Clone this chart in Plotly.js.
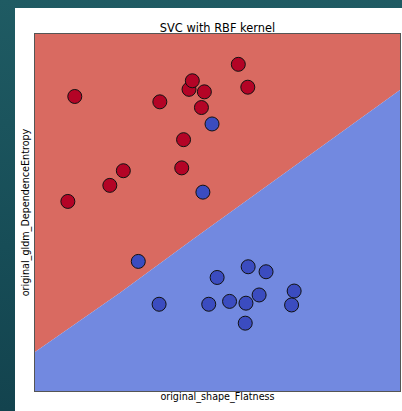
<!DOCTYPE html>
<html>
<head>
<meta charset="utf-8">
<script src="https://cdn.plot.ly/plotly-3.0.1.min.js"></script>
<style>
html,body{margin:0;padding:0;width:402px;height:411px;overflow:hidden;}
body{background:linear-gradient(180deg,#1f5b63 0%,#174d57 60%,#13434e 100%);}
#card{position:absolute;left:15px;top:8px;width:387px;height:403px;background:#fff;}
#chart{width:387px;height:403px;}
</style>
</head>
<body>
<div id="card"><div id="chart"></div></div>
<script>
// Class 1 (red) training points
const redX = [0.109,0.342,0.422,0.431,0.464,0.557,0.583,0.456,0.407,0.242,0.402,0.205,0.090];
const redY = [0.825,0.810,0.845,0.869,0.838,0.915,0.851,0.794,0.704,0.617,0.625,0.576,0.531];
// Class 0 (blue) training points
const blueX = [0.485,0.460,0.283,0.340,0.476,0.499,0.533,0.578,0.584,0.633,0.614,0.576,0.710,0.703];
const blueY = [0.748,0.557,0.363,0.243,0.243,0.318,0.251,0.246,0.348,0.334,0.269,0.190,0.280,0.241];
// Decision boundary (RBF SVC)
const boundX = [0.000,0.233,0.430,0.808,1.000];
const boundY = [0.109,0.275,0.423,0.703,0.843];
const xRange = [0,1];
const yRange = [0,1];

const redRegionX = boundX.concat([xRange[1], xRange[0]]);
const redRegionY = boundY.concat([yRange[1], yRange[1]]);
const blueRegionX = boundX.concat([xRange[1], xRange[0]]);
const blueRegionY = boundY.concat([yRange[0], yRange[0]]);

const traces = [
  {x: redRegionX, y: redRegionY, type:'scatter', mode:'lines', fill:'toself',
   fillcolor:'#d96a61', line:{width:0, color:'#d96a61'}, hoverinfo:'skip', showlegend:false},
  {x: blueRegionX, y: blueRegionY, type:'scatter', mode:'lines', fill:'toself',
   fillcolor:'#7289e0', line:{width:0, color:'#7289e0'}, hoverinfo:'skip', showlegend:false},
  {x: redX, y: redY, type:'scatter', mode:'markers', showlegend:false,
   marker:{size:14, color:'#b40426', line:{color:'#111', width:1}}},
  {x: blueX, y: blueY, type:'scatter', mode:'markers', showlegend:false,
   marker:{size:14, color:'#3b4cc0', line:{color:'#111', width:1}}}
];

const axisCommon = {showgrid:false, zeroline:false, showticklabels:false, ticks:'',
  showline:true, mirror:true, linecolor:'#555', linewidth:1, fixedrange:true};

const layout = {
  width:387, height:403,
  margin:{l:20, r:2, t:26, b:20, pad:0},
  paper_bgcolor:'#ffffff', plot_bgcolor:'#ffffff',
  font:{family:'DejaVu Sans', color:'#000', size:9.6},
  title:{text:'SVC with RBF kernel', font:{size:11.4, family:'DejaVu Sans', color:'#000'},
         xref:'paper', x:0.5, xanchor:'center', yref:'container', y:1-20.5/403, yanchor:'middle'},
  xaxis: Object.assign({}, axisCommon, {range:xRange,
    title:{text:'original_shape_Flatness', standoff:2, font:{size:9.6}}}),
  yaxis: Object.assign({}, axisCommon, {range:yRange,
    title:{text:'original_gldm_DependenceEntropy', standoff:2, font:{size:9.6}}}),
  showlegend:false
};

Plotly.newPlot('chart', traces, layout, {displayModeBar:false, staticPlot:true});
</script>
</body>
</html>
